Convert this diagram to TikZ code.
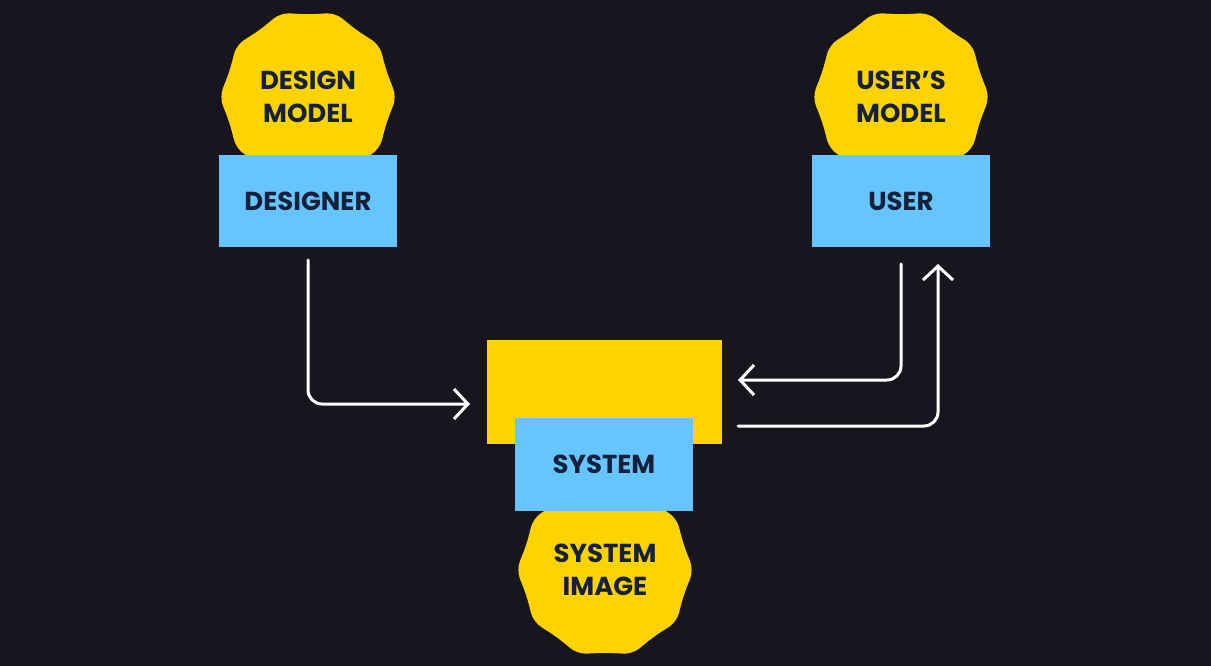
\documentclass[tikz,border=0pt]{standalone}
\usepackage{fontspec}
\setmainfont{Poppins}
\usepackage{tikz}
\usetikzlibrary{arrows.meta}
\pgfdeclarelayer{bglayer}
\pgfdeclarelayer{edgelayer}
\pgfdeclarelayer{nodelayer}
\pgfsetlayers{bglayer,edgelayer,nodelayer,main}
\tikzstyle{none}=[inner sep=0pt]
\definecolor{bg}{HTML}{17161F}
\definecolor{sun}{HTML}{FFD300}
\definecolor{sky}{HTML}{66C5FF}
\definecolor{ink}{HTML}{15203B}
\tikzstyle{badgetext}=[inner sep=0pt, align=center, text=ink, font=\bfseries\fontsize{26}{33}\selectfont]
\tikzstyle{box}=[rectangle, fill=sky, minimum width=178pt, minimum height=92pt, text=ink, font=\bfseries\fontsize{26}{33}\selectfont]
\tikzstyle{badge}=[fill=sun, rounded corners=9pt]
\tikzstyle{flow}=[white, line width=3pt, line cap=round, line join=round, rounded corners=14pt, -{Straight Barb[length=14pt, width=30pt]}]

\begin{document}
\begin{tikzpicture}[x=1pt, y=-1pt]
	\begin{pgfonlayer}{bglayer}
		\fill [bg] (0, 0) rectangle (1211, 666);
	\end{pgfonlayer}
	\begin{pgfonlayer}{nodelayer}
		\node [style=badgetext] (0) at (308, 97) {DESIGN\\MODEL};
		\node [style=box] (1) at (308, 201) {DESIGNER};
		\node [style=badgetext] (2) at (901, 97) {USER’S\\MODEL};
		\node [style=box] (3) at (901, 201) {USER};
		\node [style=none, rectangle, fill=sun, minimum width=235pt, minimum height=104pt] (4) at (604.5, 392) {};
		\node [style=box, minimum height=93pt] (5) at (604, 464) {SYSTEM};
		\node [style=badgetext] (6) at (605, 570) {SYSTEM\\IMAGE};
		\node [style=none] (7) at (308, 260) {};
		\node [style=none] (8) at (308, 404) {};
		\node [style=none] (9) at (470, 404) {};
		\node [style=none] (10) at (901, 264) {};
		\node [style=none] (11) at (901, 380) {};
		\node [style=none] (12) at (738, 380) {};
		\node [style=none] (13) at (738, 426) {};
		\node [style=none] (14) at (938, 426) {};
		\node [style=none] (15) at (938, 264) {};
	\end{pgfonlayer}
	\begin{pgfonlayer}{edgelayer}
		\fill [badge, shift={(0.center)}] plot [domain=0:342, samples=20] (\x:{85.5+3*cos(10*\x)}) -- cycle;
		\fill [badge, shift={(2.center)}] plot [domain=0:342, samples=20] (\x:{85.5+3*cos(10*\x)}) -- cycle;
		\fill [badge, shift={(6.center)}] plot [domain=0:342, samples=20] (\x:{85.5+3*cos(10*\x)}) -- cycle;
		\draw [style=flow] (7.center) -- (8.center) -- (9.center);
		\draw [style=flow] (10.center) -- (11.center) -- (12.center);
		\draw [style=flow] (13.center) -- (14.center) -- (15.center);
	\end{pgfonlayer}
\end{tikzpicture}
\end{document}
